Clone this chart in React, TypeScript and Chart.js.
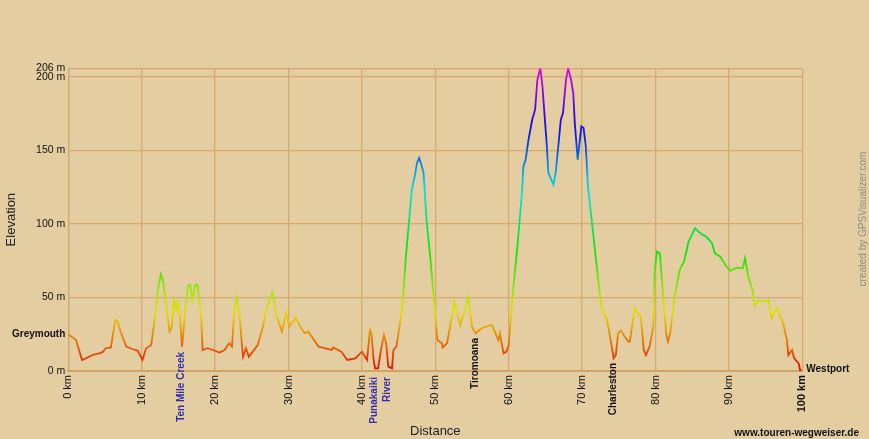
import React, { useEffect, useRef } from 'react';
import { Chart, registerables } from 'chart.js';

Chart.register(...registerables);

// ---- Data ----
const distanceKm = [
  0, 1.05, 1.87, 2.4, 3.3, 4.2, 4.7, 5.1, 5.8, 6.4, 6.7, 7.2, 7.9, 8.8, 9.45,
  10.1, 10.6, 11.3, 11.7, 12.2, 12.6, 12.9, 13.3, 13.8, 14.1, 14.4, 14.7, 14.9,
  15.2, 15.5, 15.9, 16.3, 16.6, 16.9, 17.3, 17.6, 18.1, 18.3, 19.0, 19.7, 20.6,
  21.3, 21.9, 22.3, 22.6, 22.9, 23.3, 23.8, 24.2, 24.6, 25.8, 26.5, 26.9, 27.8,
  28.4, 29.1, 29.7, 30.1, 31.0, 31.6, 32.2, 32.7, 34.1, 35.9, 36.1, 37.2, 38.0,
  39.1, 40.0, 40.7, 41.1, 41.3, 41.6, 41.8, 42.2, 42.6, 43.0, 43.3, 43.6, 44.1,
  44.3, 44.7, 45.2, 45.6, 46.0, 46.4, 46.8, 47.2, 47.5, 47.8, 48.1, 48.4, 48.8,
  49.3, 49.7, 50.1, 50.3, 50.9, 51.0, 51.6, 52.0, 52.6, 53.4, 53.9, 54.5, 55.0,
  55.5, 56.3, 57.7, 58.0, 58.6, 58.8, 59.3, 59.7, 60.0, 60.3, 60.6, 61.1, 61.5,
  61.8, 62.0, 62.3, 62.7, 63.2, 63.6, 63.9, 64.3, 64.6, 64.9, 65.2, 65.4, 66.1,
  66.4, 66.8, 67.1, 67.4, 67.8, 68.1, 68.5, 68.8, 69.0, 69.4, 69.6, 69.9, 70.2,
  70.5, 70.8, 71.4, 72.0, 72.6, 73.4, 73.8, 74.3, 74.6, 74.9, 75.3, 75.8, 76.3,
  76.5, 76.9, 77.2, 77.7, 78.0, 78.4, 78.7, 79.2, 79.7, 79.9, 80.2, 80.6, 81.0,
  81.5, 81.7, 82.0, 82.6, 83.3, 83.9, 84.5, 85.4, 85.8, 86.4, 86.9, 87.7, 88.1,
  88.8, 89.5, 90.2, 91.1, 91.9, 92.2, 92.6, 93.2, 93.5, 94.0, 95.1, 95.4, 95.8,
  96.5, 97.4, 97.9, 98.1, 98.6, 98.9, 99.5, 99.7, 99.9,
];

const elevationM = [
  25, 21, 7.5, 8.7, 10.9, 12, 13, 15.5, 16, 34.8, 33.6, 25.7, 16.6, 14.8, 13.9,
  7.5, 15.5, 17.7, 32.5, 55, 66, 62, 46, 26.8, 30, 48.4, 41.6, 47,
  37, 16.6, 39, 57.5, 58.6, 48.4, 58.6, 58.6, 37, 14.3, 15.5, 14.3, 12.5,
  14.3, 18.9, 16.6, 40, 49.6, 39, 9.7, 15.5, 9.7, 17.7, 30, 40, 53.4,
  37, 26.8, 40.4, 30.2, 36.3, 30.2, 25.7, 26.8, 16.6, 14.3, 16.1, 13.2, 7.5,
  8.6, 13.2, 7.5, 28, 25.7, 7.5, 1.8, 1.8, 14.3, 24.5, 18.9, 3, 1.8,
  14.3, 16.6, 32.5, 50.6, 78, 100.7, 123.4, 132.5, 141.6, 145, 140.4, 134.8, 103,
  78, 55, 32.5, 21, 18.9, 16, 18.9, 30, 47, 31.4, 39.3, 50.2, 30.2,
  25.7, 29.1, 31.4, 28, 21, 25.7, 12, 13.2, 17.7, 37, 55, 80, 103,
  121, 139, 143.8, 157.5, 171, 178, 198, 206, 193.8, 173, 153, 134.8, 126.8,
  134.8, 155, 171, 175.6, 198, 206, 198, 189, 169, 143.8, 153, 166.5, 165.4,
  153, 125.6, 98.4, 71, 43.8, 34.8, 23.4, 8.7, 10.9, 25.7, 27.5, 23.4, 20,
  20, 33.6, 42.7, 38, 37, 14.3, 10.9, 16.6, 30.2, 68.8, 81.3, 80, 53,
  23.4, 20, 25.7, 50.6, 68.8, 74.5, 88, 97.3, 95, 92.7, 91.5, 87, 80,
  78, 72.3, 68.2, 70.4, 70, 76.8, 65.4, 55.2, 44.3, 47.9, 47.2, 48.4, 35.9,
  42.7, 32.5, 21, 10.9, 14.3, 8.6, 5.2, 0.5, 0.5,
];

const xTickValues = [0, 10, 20, 30, 40, 50, 60, 70, 80, 90, 100];
const yTickValues = [0, 50, 100, 150, 200, 206];

const waypointNames = ['Ten Mile Creek', 'Punakaiki\nRiver', 'Tiromoana', 'Charleston'];
const waypointKm = [15.35, 42.5, 55.4, 74.2];

const startName = 'Greymouth';
const endName = 'Westport';
const siteText = 'www.touren-wegweiser.de';
const creditText = 'created by GPSVisualizer.com';

// ---- Styles ----
const FONT = "Arial, 'Liberation Sans', Helvetica, sans-serif";
const BG = '#E4CDA1';
const GRID = '#D8A96E';
const waypointStyles = [
  { color: '#2d2daa', endY: 352 },
  { color: '#2d2daa', endY: 377 },
  { color: '#111111', endY: 338 },
  { color: '#111111', endY: 363 },
];

const Y_MIN = 0;
const Y_MAX = 206;

function makeGradient(ctx: CanvasRenderingContext2D, area: any) {
  const g = ctx.createLinearGradient(0, area.bottom, 0, area.top);
  for (let e = 0; e <= Y_MAX; e += 10) {
    const hue = (300 * e) / Y_MAX;
    g.addColorStop(e / Y_MAX, `hsl(${hue}, 95%, 46%)`);
  }
  g.addColorStop(1, 'hsl(300, 95%, 46%)');
  return g;
}

const backgroundPlugin = {
  id: 'bgFill',
  beforeDraw(chart: any) {
    const { ctx, width, height } = chart;
    ctx.save();
    ctx.fillStyle = BG;
    ctx.fillRect(0, 0, width, height);
    ctx.restore();
  },
};

const labelsPlugin = {
  id: 'routeLabels',
  afterDraw(chart: any) {
    const { ctx, chartArea, scales } = chart;
    const xs = scales.x;
    const ys = scales.y;
    ctx.save();

    // start / end names
    ctx.font = `bold 10px ${FONT}`;
    ctx.fillStyle = '#111';
    ctx.textBaseline = 'middle';
    ctx.textAlign = 'right';
    ctx.fillText(startName, chartArea.left - 3, ys.getPixelForValue(elevationM[0]));
    ctx.textAlign = 'left';
    ctx.fillText(endName, chartArea.right + 4, ys.getPixelForValue(elevationM[elevationM.length - 1]) - 1);

    // waypoints (rotated)
    waypointNames.forEach((name, i) => {
      const st = waypointStyles[i];
      const px = xs.getPixelForValue(waypointKm[i]);
      const lines = name.split('\n');
      ctx.save();
      ctx.fillStyle = st.color;
      ctx.font = `bold 10px ${FONT}`;
      ctx.textAlign = 'right';
      ctx.textBaseline = 'middle';
      lines.forEach((ln, j) => {
        const off = (j - (lines.length - 1) / 2) * 13;
        ctx.save();
        ctx.translate(px + off, st.endY);
        ctx.rotate(-Math.PI / 2);
        ctx.fillText(ln, 0, 0);
        ctx.restore();
      });
      ctx.restore();
    });

    // site text
    ctx.font = `bold 10px ${FONT}`;
    ctx.fillStyle = '#111';
    ctx.textAlign = 'right';
    ctx.textBaseline = 'middle';
    ctx.fillText(siteText, 859, 433);

    // credit text (rotated)
    ctx.save();
    ctx.translate(863, 219);
    ctx.rotate(-Math.PI / 2);
    ctx.font = `10px ${FONT}`;
    ctx.fillStyle = '#8c8c8c';
    ctx.textAlign = 'center';
    ctx.textBaseline = 'middle';
    ctx.fillText(creditText, 0, 0);
    ctx.restore();

    ctx.restore();
  },
};

export default function App() {
  const canvasRef = useRef<HTMLCanvasElement | null>(null);

  useEffect(() => {
    if (!canvasRef.current) return;
    const points = distanceKm.map((x, i) => ({ x, y: elevationM[i] }));
    const chart = new Chart(canvasRef.current, {
      type: 'line',
      data: {
        datasets: [
          {
            data: points,
            borderColor: (c: any) => {
              const ch = c.chart;
              if (!ch.chartArea) return '#e00';
              return makeGradient(ch.ctx, ch.chartArea);
            },
            borderWidth: 1.8,
            pointRadius: 0,
            tension: 0,
            fill: false,
          } as any,
        ],
      },
      options: {
        responsive: false,
        animation: false,
        devicePixelRatio: 1,
        layout: { padding: { left: 0, right: 66.7, top: 68.3, bottom: 0 } },
        plugins: {
          legend: { display: false },
          tooltip: { enabled: false },
        },
        scales: {
          x: {
            type: 'linear',
            min: 0,
            max: 100,
            afterFit: (s: any) => {
              s.height = 68;
            },
            afterBuildTicks: (s: any) => {
              s.ticks = xTickValues.map((v) => ({ value: v }));
            },
            grid: { color: GRID, lineWidth: 1.3, drawTicks: false },
            border: { color: '#D4A262', width: 2 },
            ticks: {
              autoSkip: false,
              minRotation: 90,
              maxRotation: 90,
              padding: 4,
              color: '#111',
              font: (c: any) =>
                c.tick && c.tick.value === 100
                  ? { family: FONT, size: 11, weight: 'bold' }
                  : { family: FONT, size: 11 },
              callback: (v: any) => `${v} km`,
            },
            title: {
              display: true,
              text: 'Distance',
              color: '#222',
              font: { family: FONT, size: 13 },
              padding: { top: 0, bottom: 0 },
            },
          },
          y: {
            type: 'linear',
            min: Y_MIN,
            max: Y_MAX,
            afterFit: (s: any) => {
              s.width = 68.3;
            },
            afterBuildTicks: (s: any) => {
              s.ticks = yTickValues.map((v) => ({ value: v }));
            },
            grid: { color: GRID, lineWidth: 1.3, drawTicks: false },
            border: { color: GRID, width: 1.3 },
            ticks: {
              autoSkip: false,
              padding: 3,
              color: '#111',
              font: { family: FONT, size: 10.5 },
              callback: (v: any) => `${v} m`,
            },
            title: {
              display: true,
              text: 'Elevation',
              color: '#222',
              font: { family: FONT, size: 13 },
              padding: { top: 4, bottom: 0 },
            },
          },
        },
      } as any,
      plugins: [backgroundPlugin, labelsPlugin],
    });
    return () => chart.destroy();
  }, []);

  return (
    <div style={{ position: 'fixed', left: 0, top: 0, width: 869, height: 439 }}>
      <canvas ref={canvasRef} width={869} height={439} style={{ width: 869, height: 439, display: 'block' }} />
    </div>
  );
}
